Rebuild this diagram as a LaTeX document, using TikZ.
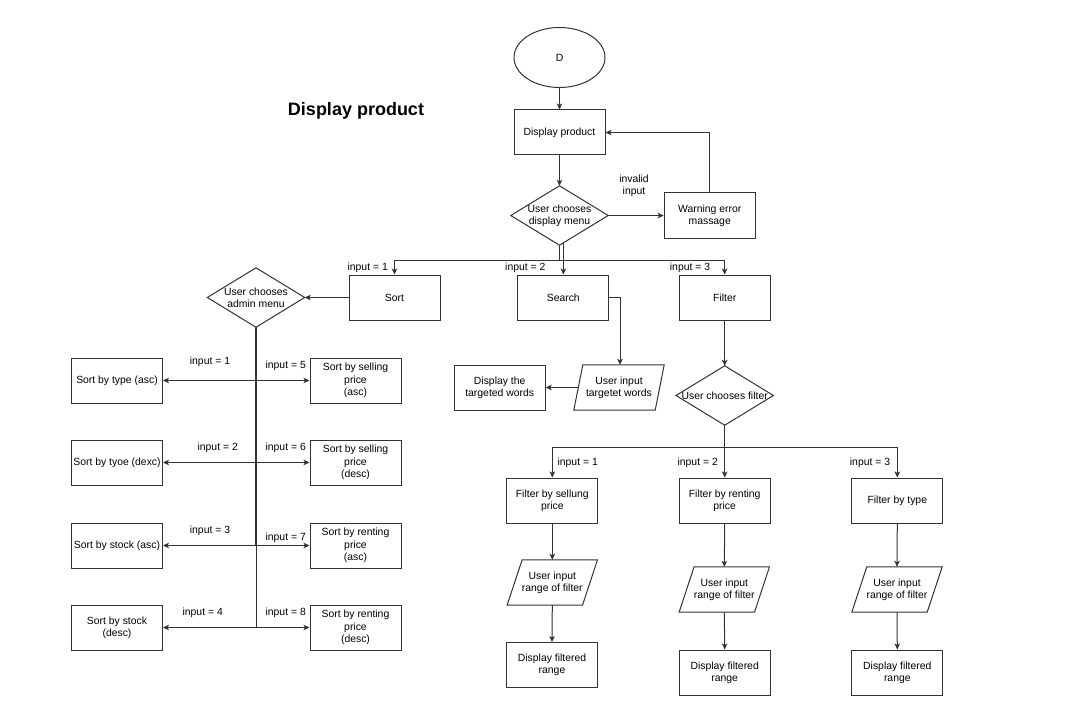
\documentclass[tikz,border=0pt]{standalone}
\usepackage{fontspec}
\setmainfont{Liberation Sans}
\usetikzlibrary{arrows.meta,shapes.geometric,calc}
\definecolor{linec}{HTML}{333333}
\tikzset{
  txt/.style={font=\fontsize{10.4}{12.3}\selectfont, align=center, text=black},
  box/.style={txt, draw=linec, line width=1pt, rectangle, minimum width=91pt, minimum height=45pt, inner sep=1pt},
  dtxt/.style={txt, minimum width=97pt, minimum height=59pt, inner sep=0pt},
  ptxt/.style={txt, minimum width=90pt, minimum height=45pt, inner sep=0pt},
  lbl/.style={txt, inner sep=0pt},
  arr/.style={draw=linec, line width=1pt, -{Stealth[length=6pt,width=5.5pt,inset=1.5pt]}},
  ln/.style={draw=linec, line width=1pt},
}
\newcommand{\dshape}[1]{\draw[ln] (#1.west) -- (#1.north) -- (#1.east) -- (#1.south) -- cycle;}
\newcommand{\pshape}[2]{\draw[ln] ([xshift=#2]#1.north west) -- (#1.north east) -- ([xshift=-#2]#1.south east) -- (#1.south west) -- cycle;}
\begin{document}
\begin{tikzpicture}[x=1pt,y=-1pt]
\useasboundingbox[fill=white] (0,0) rectangle (1069,706);

% title
\node[font=\fontsize{18}{20}\selectfont\bfseries, inner sep=0pt] (title) at (356,111) {Display product};

% top part
\node[txt, ellipse, draw=linec, line width=1pt, minimum width=91pt, minimum height=60pt, inner sep=0pt] (start) at (559.5,57.5) {D};
\node[box] (disp) at (559.5,132.5) {Display product};
\node[dtxt] (d1) at (559.5,215.5) {User chooses\\display menu};
\dshape{d1}
\node[box] (warn) at (709.7,215.5) {Warning error\\massage};
\node[lbl] (linv) at (634,186) {invalid\\input};

\node[box] (sort) at (394.5,297.5) {Sort};
\node[box] (search) at (563.3,297.5) {Search};
\node[box] (filter) at (724.7,297.5) {Filter};
\node[lbl] (lt1) at (367.7,267.5) {input = 1};
\node[lbl] (lt2) at (525.3,267.5) {input = 2};
\node[lbl] (lt3) at (690,267.5) {input = 3};

\draw[arr] (start.south) -- (disp.north);
\draw[arr] (disp.south) -- (d1.north);
\draw[arr] (d1.east) -- (warn.west);
\draw[arr] (warn.north) |- (disp.east);
\coordinate (b1) at (559.5,260.5);
\draw[arr] (d1.south) -- (b1) -| (sort.north);
\draw[arr] (d1.south) -- (b1) -| (filter.north);
\draw[arr] ([xshift=3.8pt,yshift=2.3pt]d1.south) -- (search.north);

% sort subtree
\node[dtxt] (d2) at (256,297.5) {User chooses\\admin menu};
\dshape{d2}
\draw[arr] (sort.west) -- (d2.east);

\node[box] (s1) at (117,380.5) {Sort by type (asc)};
\node[box] (s2) at (117,462.5) {Sort by tyoe (dexc)};
\node[box] (s3) at (117,545.5) {Sort by stock (asc)};
\node[box] (s4) at (117,627.5) {Sort by stock\\(desc)};
\node[box] (s5) at (355.5,380.5) {Sort by selling\\price\\(asc)};
\node[box] (s6) at (355.5,462.5) {Sort by selling\\price\\(desc)};
\node[box] (s7) at (355.5,545.5) {Sort by renting\\price\\(asc)};
\node[box] (s8) at (355.5,627.5) {Sort by renting\\price\\(desc)};

\node[lbl] (ls1) at (210,362) {input = 1};
\node[lbl] (ls2) at (217.7,448) {input = 2};
\node[lbl] (ls3) at (210,531) {input = 3};
\node[lbl] (ls4) at (202.7,613) {input = 4};
\node[lbl] (ls5) at (285.7,366) {input = 5};
\node[lbl] (ls6) at (285.7,448) {input = 6};
\node[lbl] (ls7) at (285.7,538) {input = 7};
\node[lbl] (ls8) at (285.7,613) {input = 8};

\foreach \b in {s1,s2,s3,s4} { \draw[arr] (d2.south) |- (\b.east); }
\foreach \b in {s5,s6,s7,s8} { \draw[arr] (d2.south) |- (\b.west); }
\draw[draw=linec, line width=2.2pt] (d2.south) -- (d2.south |- s3.east);

% search subtree
\node[ptxt] (p1) at (619,387.5) {User input\\targetet words};
\pshape{p1}{9pt}
\node[box] (dtw) at (499.7,387.5) {Display the\\targeted words};
\coordinate (sr) at (620,297.5);
\draw[arr] (search.east) -- (sr) -- (sr |- p1.north);
\draw[arr] ([xshift=4.5pt]p1.west) -- (dtw.east);

% filter subtree
\node[dtxt] (d3) at (724.7,395.5) {User chooses filter};
\dshape{d3}
\draw[arr] (filter.south) -- (d3.north);

\node[box] (f1) at (552.3,500.5) {Filter by sellung\\price};
\node[box] (f2) at (724.7,500.5) {Filter by renting\\price};
\node[box] (f3) at (897.3,500.5) {Filter by type};
\node[lbl] (lf1) at (577.7,463) {input = 1};
\node[lbl] (lf2) at (697.7,463) {input = 2};
\node[lbl] (lf3) at (870,463) {input = 3};

\coordinate (b2) at (724.7,447.5);
\draw[arr] (d3.south) -- (b2) -| (f1.north);
\draw[arr] (d3.south) -- (f2.north);
\draw[arr] (d3.south) -- (b2) -| (f3.north);

\node[ptxt] (q1) at (552.3,582.5) {User input\\range of filter};
\pshape{q1}{15pt}
\node[ptxt] (q2) at (724.3,589.5) {User input\\range of filter};
\pshape{q2}{15pt}
\node[ptxt] (q3) at (897,589.5) {User input\\range of filter};
\pshape{q3}{15pt}

\node[box] (r1) at (552,665) {Display filtered\\range};
\node[box] (r2) at (724.7,672.5) {Display filtered\\range};
\node[box] (r3) at (897.3,672.5) {Display filtered\\range};

\draw[arr] (f1.south) -- (q1.north);
\draw[arr] (f2.south) -- (q2.north);
\draw[arr] (f3.south) -- (q3.north);
\draw[arr] (q1.south) -- (r1.north);
\draw[arr] (q2.south) -- (r2.north);
\draw[arr] (q3.south) -- (r3.north);
\end{tikzpicture}
\end{document}
